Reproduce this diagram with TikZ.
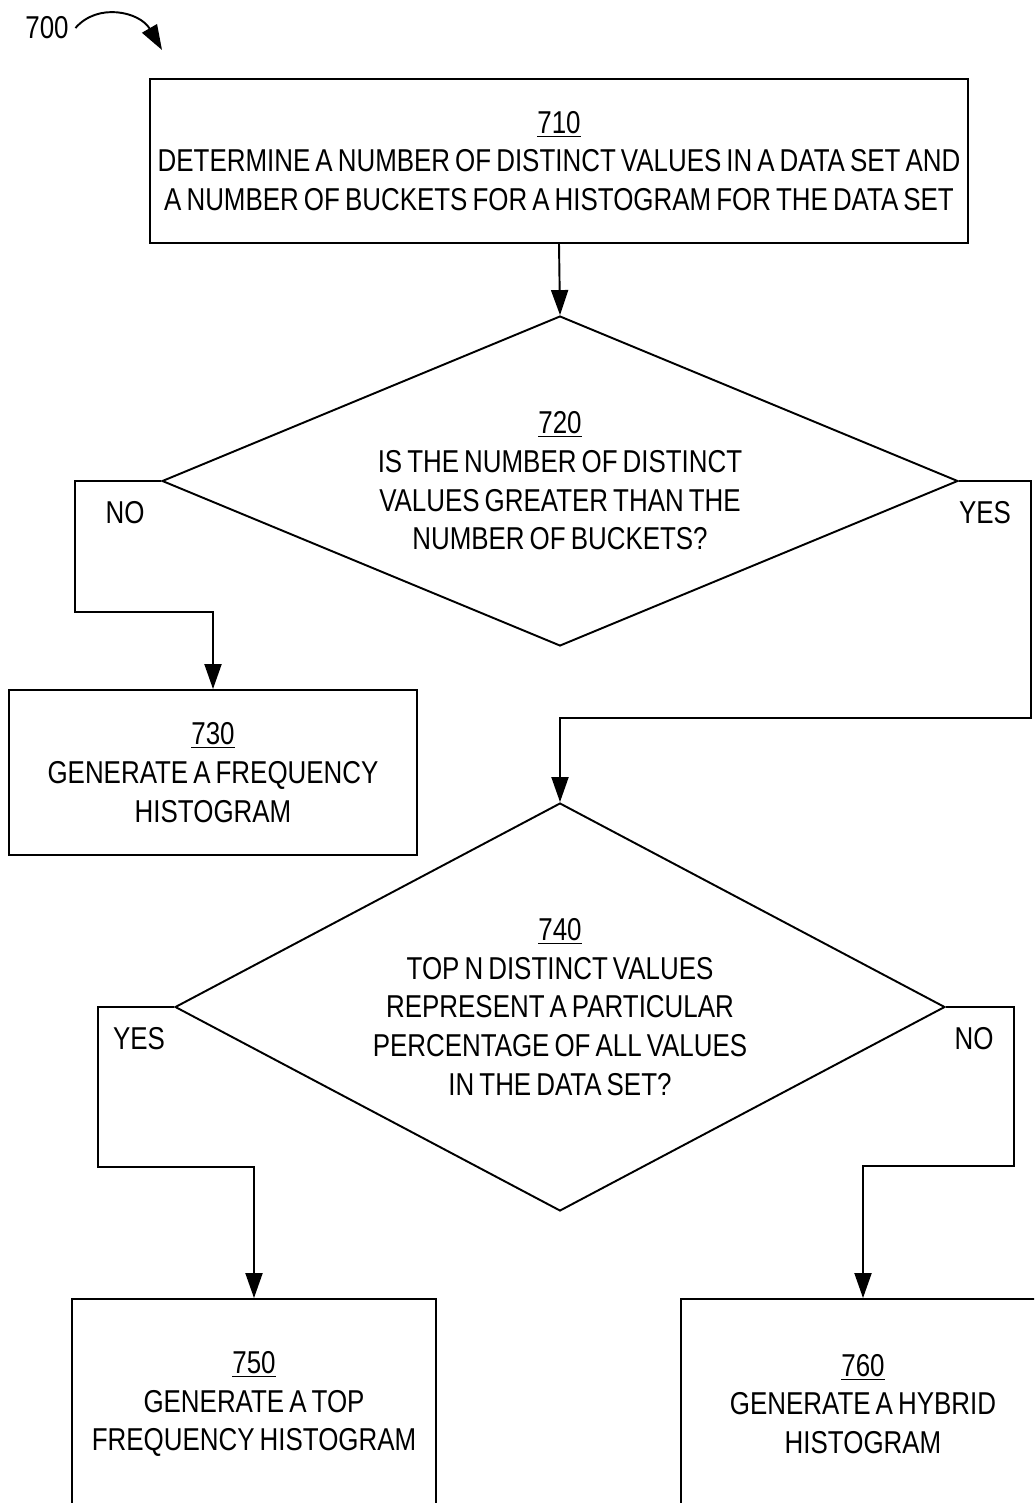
\documentclass[tikz,border=0pt]{standalone}
\usepackage{fontspec}
\setmainfont[FakeStretch=0.82,WordSpace=0.7]{Liberation Sans}
\usetikzlibrary{shapes.geometric,arrows.meta}
\begin{document}
\begin{tikzpicture}[x=0.02cm,y=-0.02cm,line width=1.1pt,
	txt/.style={font=\fontsize{18}{22}\selectfont,align=center},
	box/.style={txt,draw,rectangle,inner sep=0pt,execute at begin node={\rule{0pt}{19pt}}},
	dec/.style={txt,draw,diamond,inner sep=0pt,execute at begin node={\rule{0pt}{19pt}}},
	arr/.style={-{Triangle[length=0.5cm,width=0.34cm]}}]
	\path[use as bounding box,clip] (0,0) rectangle (1034,1503);
	\node[txt] (n700) at (47,28) {700};
	\coordinate (tip700) at (162,50);
	\draw[arr] (n700.east) .. controls (98,2) and (140,12) .. (tip700);
	\node[box,minimum width=16.36cm,minimum height=3.28cm] (n710) at (559,161) {\underline{710}\\DETERMINE A NUMBER OF DISTINCT VALUES IN A DATA SET AND\\A NUMBER OF BUCKETS FOR A HISTOGRAM FOR THE DATA SET};
	\node[dec,minimum width=15.92cm,minimum height=6.6cm,aspect=2.41] (n720) at (560,481) {\underline{720}\\IS THE NUMBER OF DISTINCT\\VALUES GREATER THAN THE\\NUMBER OF BUCKETS?};
	\node[box,minimum width=8.16cm,minimum height=3.3cm] (n730) at (213,772.5) {\underline{730}\\GENERATE A FREQUENCY\\HISTOGRAM};
	\node[dec,minimum width=15.4cm,minimum height=8.16cm,aspect=1.89] (n740) at (560,1007) {\underline{740}\\TOP N DISTINCT VALUES\\REPRESENT A PARTICULAR\\PERCENTAGE OF ALL VALUES\\IN THE DATA SET?};
	\node[box,minimum width=7.28cm,minimum height=4.2cm] (n750) at (254,1404) {\underline{750}\\GENERATE A TOP\\FREQUENCY HISTOGRAM};
	\node[box,minimum width=7.28cm,minimum height=4.2cm] (n760) at (863,1404) {\underline{760}\\GENERATE A HYBRID\\HISTOGRAM};
	\draw[arr] (n710.south) -- (n720.north);
	\draw[arr] (n720.west) -| (75,612) -| (n730.north);
	\draw[arr] (n720.east) -| (1031,718) -| (n740.north);
	\draw[arr] (n740.west) -| (98,1167) -| (n750.north);
	\draw[arr] (n740.east) -| (1014,1166) -| (n760.north);
	\node[txt] (no720) at (125,513) {NO};
	\node[txt] (yes720) at (985,513) {YES};
	\node[txt] (yes740) at (139,1039) {YES};
	\node[txt] (no740) at (974,1039) {NO};
\end{tikzpicture}
\end{document}
